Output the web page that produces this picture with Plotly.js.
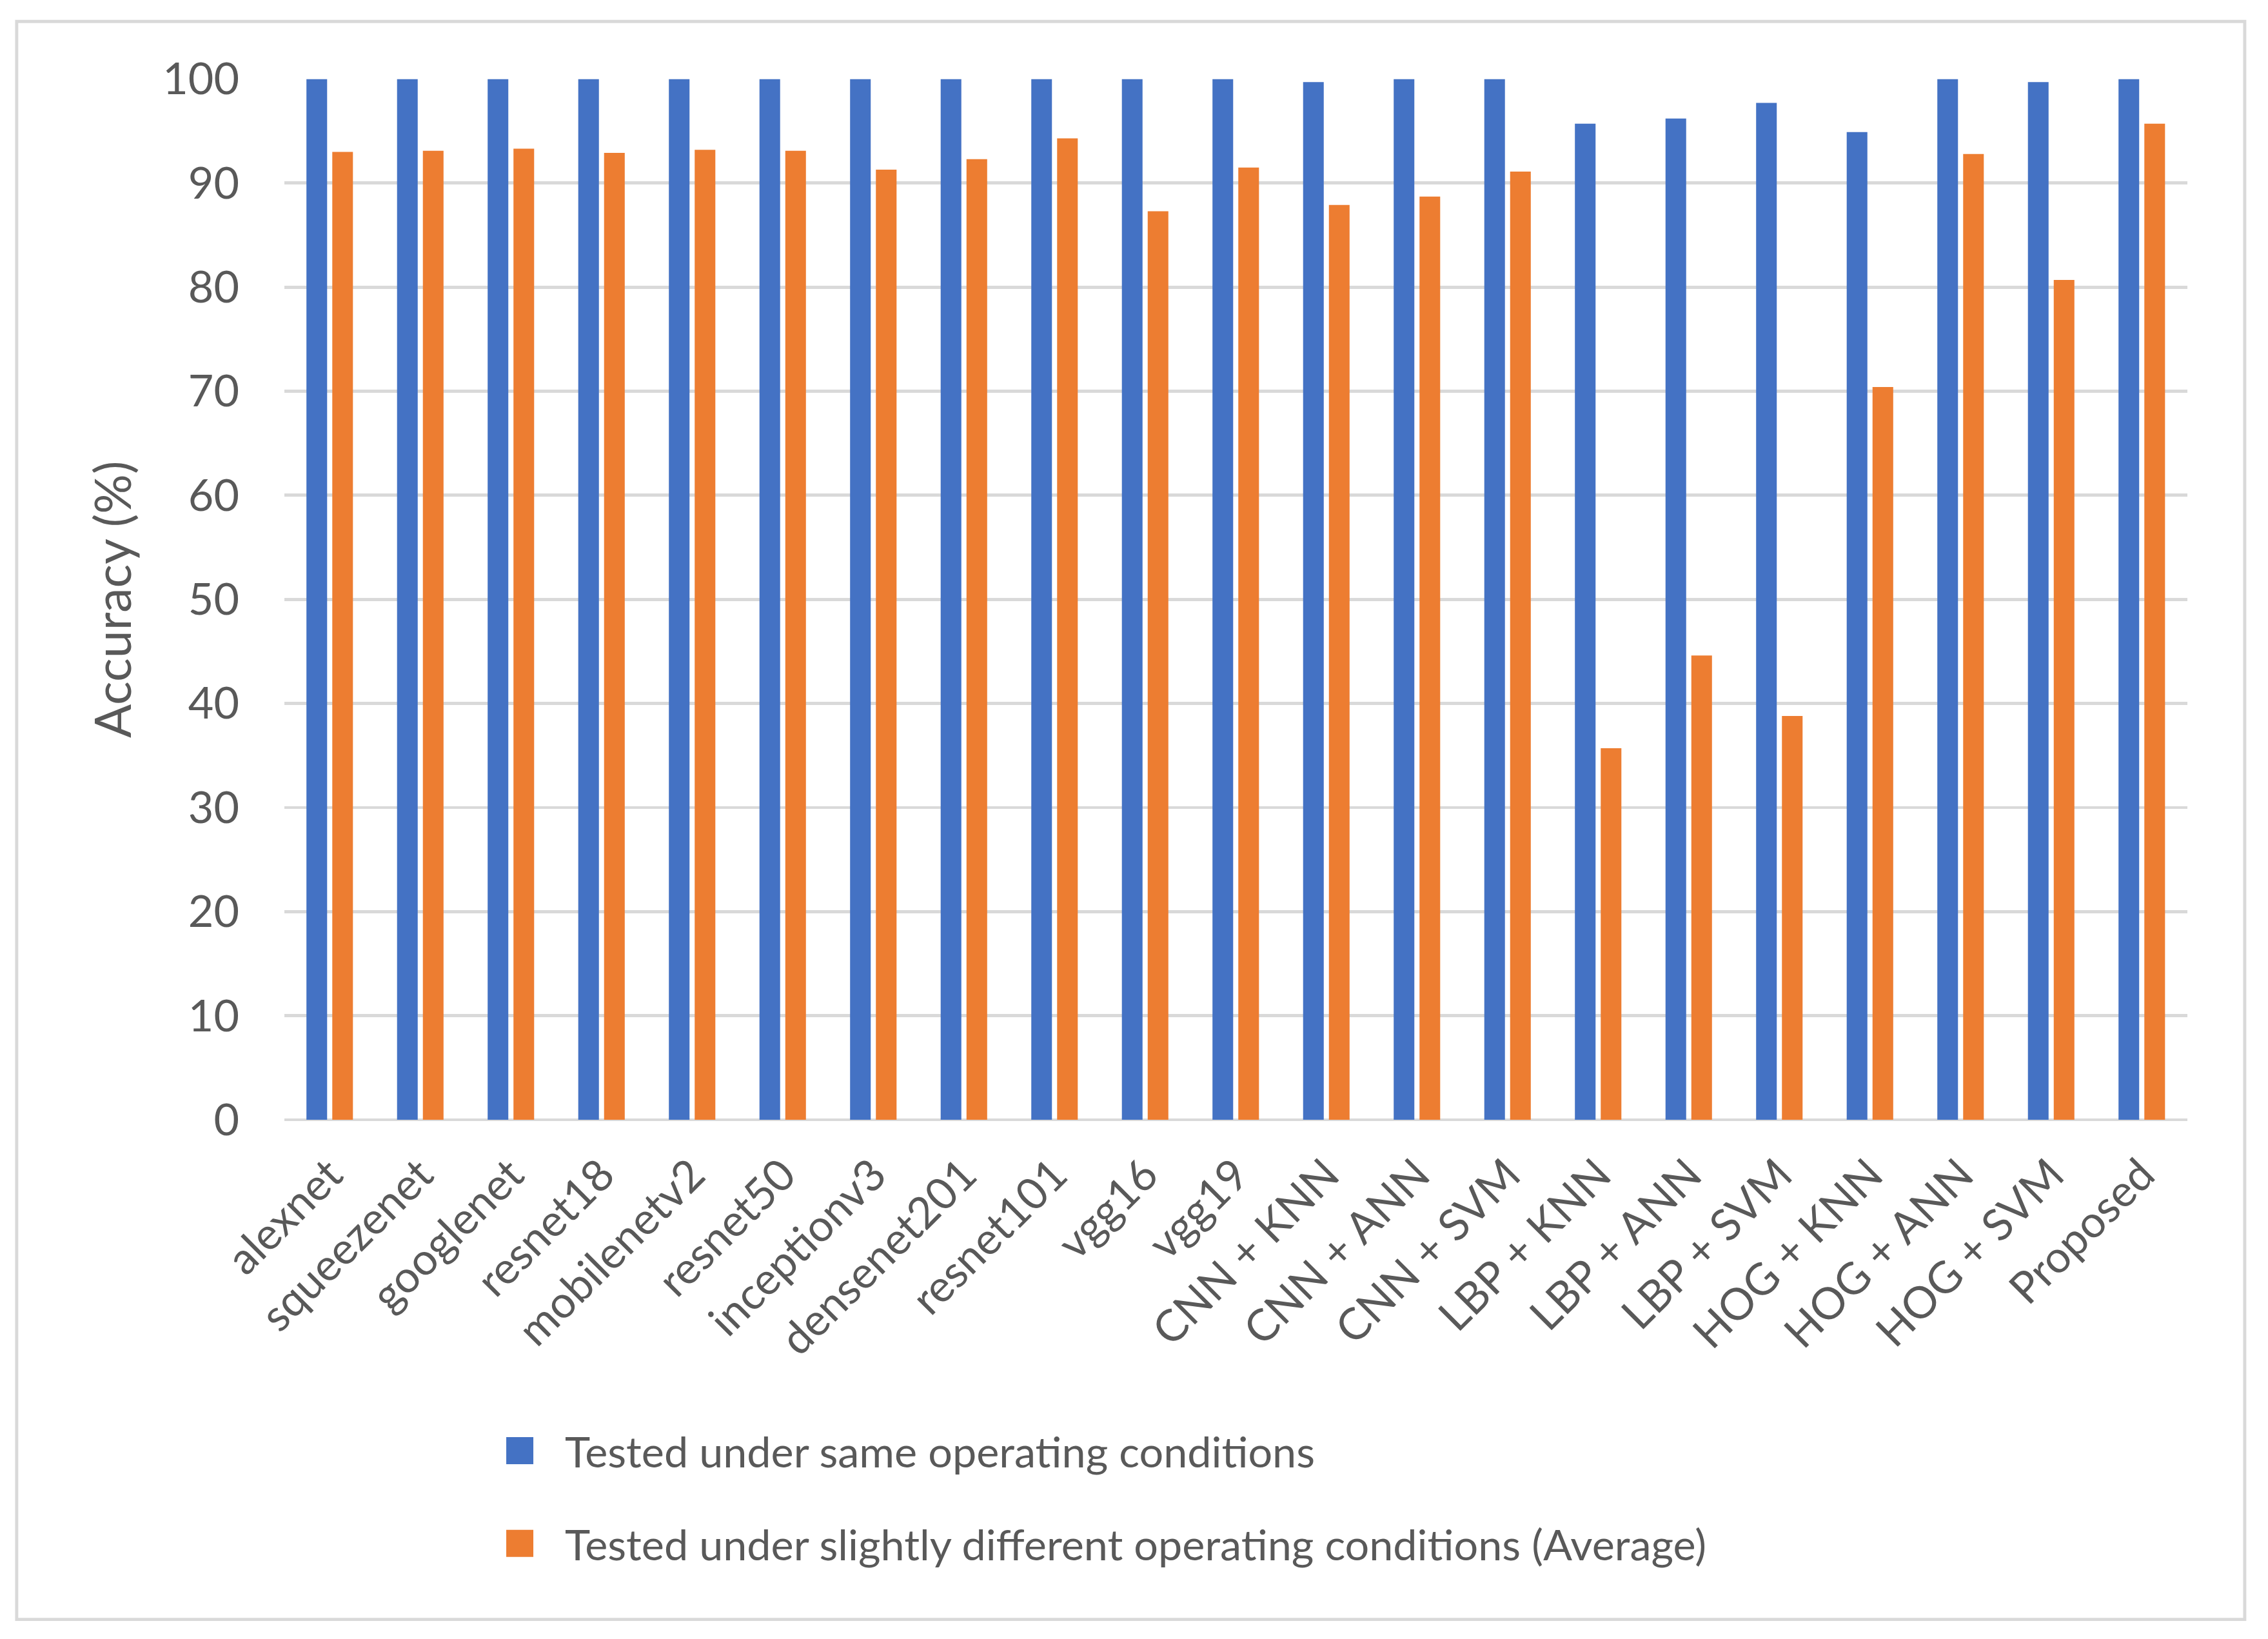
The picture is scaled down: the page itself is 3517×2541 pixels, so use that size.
<!DOCTYPE html>
<html>
<head>
<meta charset="utf-8">
<script src="https://cdn.plot.ly/plotly-3.0.1.min.js"></script>
<style>
  html, body { margin: 0; padding: 0; background: #ffffff; width: 3517px; height: 2541px; overflow: hidden; }
  #wrap { width: 3517px; height: 2541px; position: relative; overflow: visible; }
  #chart { position: absolute; left: 0; top: 0; width: 1005px; height: 726px; transform: scale(3.5); transform-origin: 0 0; }
</style>
</head>
<body>
<div id="wrap"><div id="chart"></div></div>
<script>
const categories = ["alexnet", "squeezenet", "googlenet", "resnet18", "mobilenetv2", "resnet50",
  "inceptionv3", "densenet201", "resnet101", "vgg16", "vgg19", "CNN + KNN", "CNN + ANN",
  "CNN + SVM", "LBP + KNN", "LBP + ANN", "LBP + SVM", "HOG + KNN", "HOG + ANN", "HOG + SVM", "Proposed"];
const sameConditions = [100, 100, 100, 100, 100, 100, 100, 100, 100, 100, 100, 99.7, 100, 100,
  95.7, 96.2, 97.7, 94.9, 100, 99.7, 100];
const differentConditions = [93.0, 93.1, 93.3, 92.9, 93.2, 93.1, 91.3, 92.3, 94.3, 87.3, 91.5,
  87.9, 88.7, 91.1, 35.7, 44.6, 38.8, 70.4, 92.8, 80.7, 95.7];
const seriesNames = ["Tested under same operating conditions",
  "Tested under slightly different operating conditions (Average)"];
const yTicks = [0, 10, 20, 30, 40, 50, 60, 70, 80, 90, 100];

const FONT = "Lato, 'Open Sans', sans-serif";
const TXT = "#595959";

const traces = [
  { type: "bar", x: categories, y: sameConditions, name: seriesNames[0],
    marker: { color: "#4472C4" }, legendgroup: "a" },
  { type: "bar", x: categories, y: differentConditions, name: seriesNames[1],
    marker: { color: "#ED7D31" }, legendgroup: "b" }
];

const layout = {
  width: 1005, height: 726,
  margin: { l: 126.3, r: 35.9, t: 34.9, b: 230 },
  paper_bgcolor: "#ffffff", plot_bgcolor: "#ffffff",
  font: { family: FONT, color: TXT, size: 19 },
  barmode: "group", bargap: 0.43, bargroupgap: 0.2,
  xaxis: {
    type: "category", tickangle: -45, showgrid: false, showline: false, ticks: "",
    ticklabelstandoff: 8,
    tickfont: { family: FONT, size: 19.5, color: TXT }, automargin: false
  },
  yaxis: {
    range: [0, 100], tickvals: yTicks, ticktext: yTicks.map(String),
    showgrid: true, gridcolor: "#d9d9d9", gridwidth: 1.4,
    zeroline: true, zerolinecolor: "#d9d9d9", zerolinewidth: 1.4,
    showline: false, ticks: "", ticklabelstandoff: 19,
    tickfont: { family: FONT, size: 19.5, color: TXT },
    title: { text: "Accuracy (%)", font: { family: FONT, size: 22, color: TXT }, standoff: 7 },
    automargin: false
  },
  showlegend: true,
  legend: {
    orientation: "v", x: 0.1, xanchor: "left", y: -0.277, yanchor: "top",
    traceorder: "grouped", tracegroupgap: 13.4,
    font: { family: FONT, size: 19, color: TXT }, bgcolor: "rgba(0,0,0,0)"
  },
  shapes: [{
    type: "rect", xref: "paper", yref: "paper",
    x0: -0.1407, x1: 1.0303, y0: -0.4801, y1: 1.0553,
    line: { color: "#d9d9d9", width: 1.4 }, fillcolor: "rgba(0,0,0,0)", layer: "below"
  }]
};

Plotly.newPlot("chart", traces, layout, { staticPlot: true, displayModeBar: false });
</script>
</body>
</html>
